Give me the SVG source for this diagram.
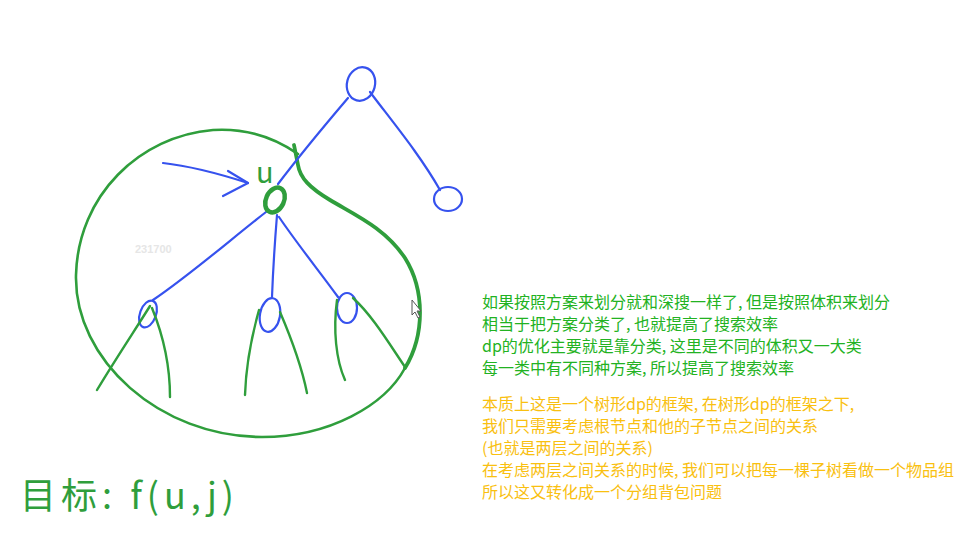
<svg xmlns="http://www.w3.org/2000/svg" width="960" height="550" viewBox="0 0 960 550">
<style>
.g{fill:none;stroke:#2f9e3c;stroke-linecap:round;stroke-linejoin:round}
.b{fill:none;stroke:#3652ee;stroke-width:2.2;stroke-linecap:round;stroke-linejoin:round}
.tg{font-family:"Noto Sans CJK SC","Liberation Sans",sans-serif;font-size:16px;fill:#22b222}
.ty{font-family:"Noto Sans CJK SC","Liberation Sans",sans-serif;font-size:16px;fill:#f9c010}
.hw{font-family:"Noto Sans CJK SC","Liberation Sans",sans-serif;fill:#2f9e3c}
</style>
<rect width="960" height="550" fill="#ffffff"/>
<text x="135" y="253" font-family="Liberation Sans,sans-serif" font-size="11" font-weight="bold" fill="#e6e6e6">231700</text>
<g id="enclosure">
<path class="g" stroke-width="2.6" d="M 298 154 C 272 136 245 128 213 130 C 140 136 78 195 76 275 C 74 360 160 437 262 437 C 330 437 385 405 405 368"/>
<path class="g" stroke-width="3.8" d="M 405 368 C 425 335 425 290 405 258 C 385 228 355 215 330 200 C 310 188 300 178 298 165 L 294 145"/>
</g>
<g id="connectors">
<path class="b" d="M 278 184 C 300 155 325 125 348 98"/>
<path class="b" d="M 370 92 C 395 125 420 155 440 190"/>
<path class="b" d="M 266 212 C 230 240 190 275 153 300"/>
<path class="b" d="M 277 215 C 275 240 273 270 272 297"/>
<path class="b" d="M 279 217 C 298 245 320 272 338 297"/>
<path class="b" d="M 163 163 C 190 166 220 174 248 183"/>
<path class="b" d="M 228 171 L 248 183 L 223 196"/>
</g>
<g id="node-top"><ellipse class="b" cx="361" cy="84" rx="14" ry="17" transform="rotate(15 361 84)"/></g>
<g id="node-right"><ellipse class="b" cx="448" cy="199" rx="14" ry="12"/></g>
<g id="node-u">
<ellipse class="g" stroke-width="4.5" cx="275" cy="200" rx="9" ry="13" transform="rotate(25 275 200)"/>
<text class="hw" x="256" y="183" font-size="29">u</text>
</g>
<g id="child-left">
<ellipse class="b" cx="148" cy="314" rx="8" ry="14" transform="rotate(20 148 314)"/>
<path class="g" stroke-width="2.4" d="M 150 306 C 135 330 115 360 97 390"/>
<path class="g" stroke-width="2.4" d="M 152 308 C 163 335 170 365 170 397"/>
</g>
<g id="child-mid">
<ellipse class="b" cx="270" cy="315" rx="10" ry="17" transform="rotate(10 270 315)"/>
<path class="g" stroke-width="2.4" d="M 259 310 C 252 335 246 365 245 395"/>
<path class="g" stroke-width="2.4" d="M 280 312 C 292 340 302 368 307 393"/>
</g>
<g id="child-right">
<ellipse class="b" cx="347" cy="308" rx="10" ry="15"/>
<path class="g" stroke-width="2.4" d="M 337 300 C 333 330 336 360 345 380"/>
<path class="g" stroke-width="2.4" d="M 353 298 C 372 315 390 345 405 367"/>
</g>
<g id="cursor">
<polygon points="412,300 412,315 415,312 418,318 420,317 417,311 421,311" fill="#ffffff" stroke="#555555" stroke-width="1"/>
</g>
<g id="goal">
<text class="hw" x="20" y="509" font-size="36" textLength="214" lengthAdjust="spacing">目标: f(u,j)</text>
</g>
<g id="notes-green">
<text class="tg" x="482" y="308">如果按照方案来划分就和深搜一样了, 但是按照体积来划分</text>
<text class="tg" x="482" y="330">相当于把方案分类了, 也就提高了搜索效率</text>
<text class="tg" x="482" y="352">dp的优化主要就是靠分类, 这里是不同的体积又一大类</text>
<text class="tg" x="482" y="374">每一类中有不同种方案, 所以提高了搜索效率</text>
</g>
<g id="notes-yellow">
<text class="ty" x="482" y="410">本质上这是一个树形dp的框架, 在树形dp的框架之下,</text>
<text class="ty" x="482" y="432">我们只需要考虑根节点和他的子节点之间的关系</text>
<text class="ty" x="482" y="454">(也就是两层之间的关系)</text>
<text class="ty" x="482" y="476">在考虑两层之间关系的时候, 我们可以把每一棵子树看做一个物品组</text>
<text class="ty" x="482" y="498">所以这又转化成一个分组背包问题</text>
</g>
</svg>
